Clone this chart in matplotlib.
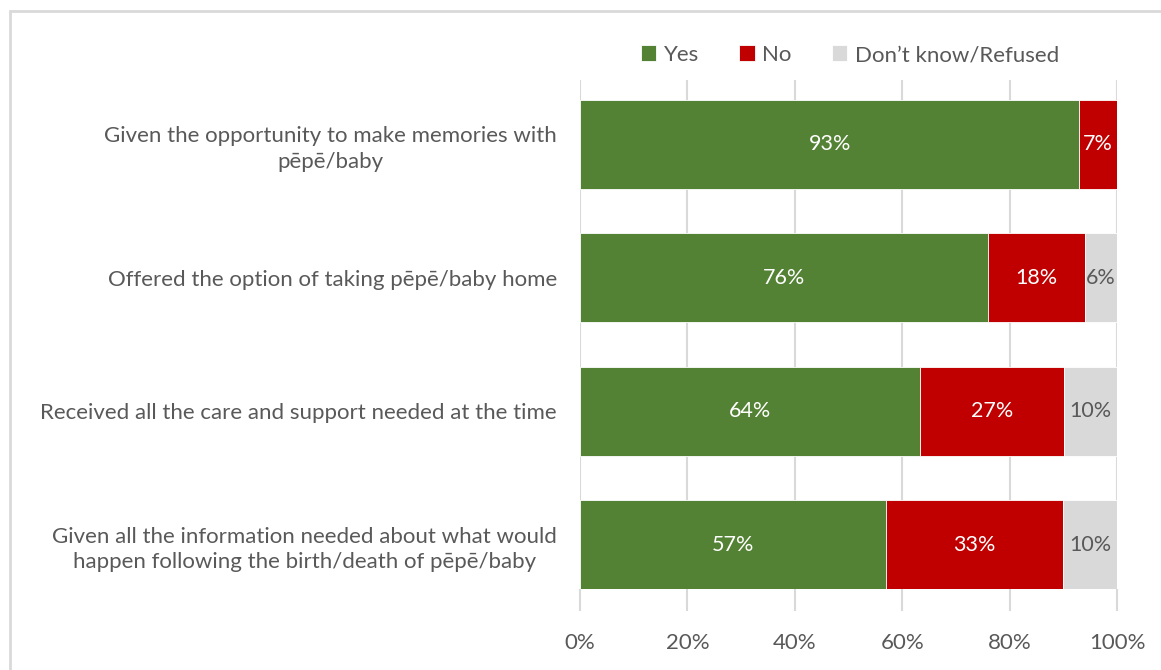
import matplotlib.pyplot as plt
import numpy as np
from matplotlib.patches import Rectangle

plt.rcParams['font.family'] = ['Lato', 'DejaVu Sans']

# data (as shown in the chart labels, %)
categories = [
    "Given the opportunity to make memories with\npēpē/baby",
    "Offered the option of taking pēpē/baby home",
    "Received all the care and support needed at the time",
    "Given all the information needed about what would\nhappen following the birth/death of pēpē/baby",
]
yes = [93, 76, 64, 57]
no = [7, 18, 27, 33]
dont_know = [0, 6, 10, 10]
series_names = ["Yes", "No", "Don\u2019t know/Refused"]
xticks = [0, 20, 40, 60, 80, 100]

colors = ['#548235', '#C00000', '#D9D9D9']
label_colors = ['white', 'white', '#595959']
grey_text = '#595959'
grid_c = '#D9D9D9'

raw = np.array([yes, no, dont_know], dtype=float)
shares = raw / raw.sum(axis=0) * 100  # rows normalised to 100%

fig = plt.figure(figsize=(11.61, 6.70), dpi=100)
ax = fig.add_axes([580 / 1161, 1 - 589 / 670, 537 / 1161, 509 / 670])

y = np.arange(len(categories))
left = np.zeros(len(categories))
for i in range(3):
    ax.barh(y, shares[i], left=left, height=0.667, color=colors[i],
            edgecolor='white', linewidth=0.6, label=series_names[i], zorder=3)
    for j in range(len(categories)):
        if raw[i, j] > 0:
            ax.text(left[j] + shares[i, j] / 2, y[j], f"{raw[i, j]:.0f}%",
                    ha='center', va='center', fontsize=15.5,
                    color=label_colors[i], zorder=4)
    left += shares[i]

ax.set_xlim(0, 100)
ax.set_ylim(len(categories) - 1 + 0.333, -0.483)
ax.set_yticks(y)
ax.set_yticklabels(categories, fontsize=16, color=grey_text,
                   multialignment='center', linespacing=1.35)
ax.set_xticks(xticks)
ax.set_xticklabels([f"{t}%" for t in xticks], fontsize=16, color=grey_text)
ax.tick_params(axis='y', length=0, pad=16.5)
ax.tick_params(axis='x', length=16, width=1.5, color=grid_c, pad=16)
for t in xticks:
    ax.axvline(t, color=grid_c, linewidth=1.5, zorder=1)
for s in ax.spines.values():
    s.set_visible(False)

fig.legend(loc='center', bbox_to_anchor=(850 / 1161, 1 - 55 / 670), ncol=3,
           frameon=False, fontsize=16, handlelength=0.7, handleheight=0.7,
           handletextpad=0.35, columnspacing=1.8, labelcolor=grey_text)

# light border round the chart area
fig.patches.append(Rectangle((10 / 1161, -0.1), 1.2, 1.1 - 11 / 670,
                             transform=fig.transFigure, fill=False,
                             edgecolor=grid_c, linewidth=2))

fig.savefig("out.png", dpi=100)
